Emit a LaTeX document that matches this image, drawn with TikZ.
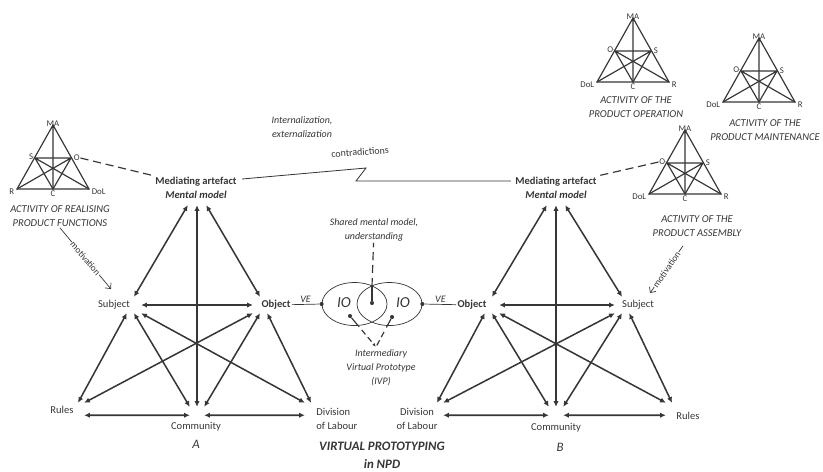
\documentclass[tikz,border=0pt]{standalone}
\usepackage{fontspec}
\setmainfont{Carlito}
\usetikzlibrary{positioning,shapes.geometric,arrows.meta,calc}
\definecolor{ink}{HTML}{363636}

\begin{document}
\begin{tikzpicture}[x=0.03cm, y=-0.03cm, >=Latex, color=ink,
  vmid/.style={inner sep=0pt, minimum width=4.2mm, minimum height=4.8mm},
  vlow/.style={inner sep=0pt, minimum width=3.6mm, minimum height=3.6mm},
  vtop/.style={inner sep=0pt, minimum width=5.4mm, minimum height=2.4mm},
  link/.style={{Latex[length=1.7mm,width=1.6mm]}-{Latex[length=1.7mm,width=1.6mm]}, line width=1.3pt},
  lbl/.style={font=\fontsize{9}{12}\selectfont, inner sep=1pt},
  bld/.style={font=\bfseries\fontsize{9}{12}\selectfont, inner sep=1pt},
  note/.style={font=\itshape\fontsize{8.5}{12}\selectfont, align=center, inner sep=1pt},
  actcap/.style={font=\itshape\fontsize{9}{12}\selectfont, align=center, inner sep=1pt},
  tri/.style={line width=1pt},
  tlbl/.style={font=\fontsize{7.5}{9}\selectfont, inner sep=0.5pt},
  iodot/.style={circle, fill, inner sep=0pt, minimum size=3.5pt},
  motiv/.style={-{Straight Barb[length=1.3mm,width=2.4mm]}, line width=0.6pt},
  oval/.style={draw, ellipse, inner sep=0pt, minimum width=1.95cm, minimum height=1.29cm, line width=0.6pt}]

\useasboundingbox (0,0) rectangle (823,471);

% small activity triangles
\foreach \nm/\ax/\ay/\lA/\lB/\lC/\lD in {ta/53/125/S/O/R/DoL, tb/633/18/O/S/DoL/R,
    tc/759/38/O/S/DoL/R, td/685/130/O/S/DoL/R}{
  \coordinate (\nm-ma) at (\ax,\ay);
  \coordinate (\nm-ml) at (\ax-18,\ay+33);
  \coordinate (\nm-mr) at (\ax+18,\ay+33);
  \coordinate (\nm-bl) at (\ax-36,\ay+64);
  \coordinate (\nm-c) at (\ax,\ay+64);
  \coordinate (\nm-br) at (\ax+36,\ay+64);
  \draw[tri] (\nm-bl) -- (\nm-ma) -- (\nm-br) -- cycle (\nm-ma) -- (\nm-c);
  \draw[tri] (\nm-ml) -- (\nm-mr) -- (\nm-c) -- (\nm-ml) -- (\nm-br) (\nm-mr) -- (\nm-bl);
  \node[tlbl, anchor=south] (\nm-mal) at ($(\nm-ma)+(0,2)$) {MA};
  \node[tlbl, anchor=east] (\nm-mll) at ($(\nm-ml)+(-1,-1)$) {\lA};
  \node[tlbl, anchor=west] (\nm-mrl) at ($(\nm-mr)+(2,0)$) {\lB};
  \node[tlbl, anchor=east] (\nm-bll) at ($(\nm-bl)+(-2,3)$) {\lC};
  \node[tlbl, anchor=north] (\nm-cl) at ($(\nm-c)+(0,1)$) {C};
  \node[tlbl, anchor=west] (\nm-brl) at ($(\nm-br)+(2,3)$) {\lD};
}
\node[actcap] (capA) at (60,216) {ACTIVITY OF REALISING\\PRODUCT FUNCTIONS};
\node[actcap] (capB) at (636,107) {ACTIVITY OF THE\\PRODUCT OPERATION};
\node[actcap] (capC) at (765,130) {ACTIVITY OF THE\\PRODUCT MAINTENANCE};
\node[actcap] (capD) at (697,226) {ACTIVITY OF THE\\PRODUCT ASSEMBLY};

% big triangles A and B
\node[vtop] (A-ap) at (197,201) {};
\node[vmid] (A-ml) at (134,305) {};
\node[vmid] (A-mr) at (260,305) {};
\node[vlow] (A-bl) at (78,409) {};
\node[vtop, minimum width=4.2mm] (A-bc) at (197,411) {};
\node[vlow] (A-br) at (311,409) {};
\node[vtop] (B-ap) at (556,201) {};
\node[vmid] (B-ml) at (492,305) {};
\node[vmid] (B-mr) at (622,305) {};
\node[vlow] (B-bl) at (437,409) {};
\node[vtop, minimum width=4.2mm] (B-bc) at (556,411) {};
\node[vlow] (B-br) at (672,409) {};

\foreach \p in {A,B}{
  \draw[link] (\p-ap.south west) -- (\p-ml.north);
  \draw[link] (\p-ap.south) -- (\p-bc.north);
  \draw[link] (\p-ap.south east) -- (\p-mr.north);
  \draw[link] (\p-ml.east) -- (\p-mr.west);
  \draw[link] (\p-ml.south west) -- (\p-bl.north);
  \draw[link] (\p-ml.south) -- (\p-bc.north west);
  \draw[link] (\p-ml.south east) -- (\p-br.north west);
  \draw[link] (\p-mr.south west) -- (\p-bl.north east);
  \draw[link] (\p-mr.south) -- (\p-bc.north east);
  \draw[link] (\p-mr.south east) -- (\p-br.north);
  \draw[link] (\p-bl.south east) -- (\p-bc.south west);
  \draw[link] (\p-bc.south east) -- (\p-br.south west);
}

\node[bld, align=center] (medA) at (196,188) {Mediating artefact\\\textit{Mental model}};
\node[lbl] (subA) at (114,305) {Subject};
\node[bld] (objA) at (276,305) {Object};
\node[lbl] (rulA) at (62,410) {Rules};
\node[lbl] (comA) at (196,427) {Community};
\node[lbl, align=left, anchor=west] (divA) at (315,419) {Division\\of Labour};
\node[font=\itshape\fontsize{11}{13}\selectfont, below=3pt of comA] (tagA) {A};

\node[bld, align=center] (medB) at (556,188) {Mediating artefact\\\textit{Mental model}};
\node[bld] (objB) at (472,305) {Object};
\node[lbl] (subB) at (638,305) {Subject};
\node[lbl, align=center] (divB) at (417,419) {Division\\of Labour};
\node[lbl] (comB) at (556,428) {Community};
\node[lbl] (rulB) at (688,416) {Rules};
\node[font=\itshape\fontsize{11}{13}\selectfont] (tagB) at (560,447) {B};

\node[font=\bfseries\itshape\fontsize{11}{15}\selectfont, align=center] (title) at (382,455) {VIRTUAL PROTOTYPING\\in NPD};

% intermediary objects
\node[oval] (ioA) at (354.5,304) {};
\node[oval] (ioB) at (389.5,304) {};
\node[font=\itshape\fontsize{13}{15}\selectfont] at (344,303) {IO};
\node[font=\itshape\fontsize{13}{15}\selectfont] at (403,303) {IO};
\node[iodot] (veA) at (ioA.west) {};
\node[iodot] (veB) at (ioB.east) {};
\node[iodot] (ioC) at (372,303) {};
\node[iodot] (ivpA) at (350,316) {};
\node[iodot] (ivpB) at (392,317) {};
\coordinate (lensTop) at (372,286);
\coordinate (ivpTip) at (376,347);
\draw[line width=0.6pt] (objA) -- node[above, note] {VE} (veA);
\draw[line width=0.6pt] (veB) -- node[above, note] {VE} (objB);

\node[note] (shared) at (374,230) {Shared mental model,\\understanding};
\node[note] (ivp) at (381,368) {Intermediary\\Virtual Prototype\\(IVP)};
\draw[line width=1pt] (ioC) -- (lensTop);
\draw[line width=1pt, dash pattern=on 7pt off 4pt] (lensTop) -- (shared);
\draw[line width=1pt] (ivpA) -- ($(ivpA)!0.35!(ivpTip)$);
\draw[line width=1pt, dash pattern=on 5pt off 3pt, -{Latex[length=1.2mm]}] ($(ivpA)!0.45!(ivpTip)$) -- (ivpTip);
\draw[line width=1pt] (ivpB) -- ($(ivpB)!0.35!(ivpTip)$);
\draw[line width=1pt, dash pattern=on 5pt off 3pt] ($(ivpB)!0.5!(ivpTip)$) -- (ivpTip);

% contradictions between the two mental models
\node[note] (intl) at (302,127) {Internalization,\\externalization};
\node[font=\fontsize{8.5}{10}\selectfont, rotate=4] (contr) at (360,152) {contradictions};
\coordinate (zzTop) at (366,168);
\coordinate (zzLow) at (356,181);
\draw[line width=0.7pt] ($(medA.east)+(4,-9)$) -- (zzTop) -- (zzLow) -- ($(medB.west)+(-3,-7)$);

\draw[line width=1pt, dash pattern=on 7pt off 4pt] (ta-mrl.east) -- (medA.north west);
\draw[line width=1pt, dash pattern=on 7pt off 4pt] (td-mll.west) -- (medB.north east);

\draw[motiv] (capA.south) -- node[sloped, fill=white, inner sep=0.5pt, font=\fontsize{8}{9}\selectfont] {motivation} ($(subA.north)+(-3,-10)$);
\draw[motiv] ($(capD.south)+(-14,8)$) -- node[sloped, fill=white, inner sep=0.5pt, font=\fontsize{8}{9}\selectfont] {motivation} ($(subB.north)+(12,-6)$);
\end{tikzpicture}
\end{document}
